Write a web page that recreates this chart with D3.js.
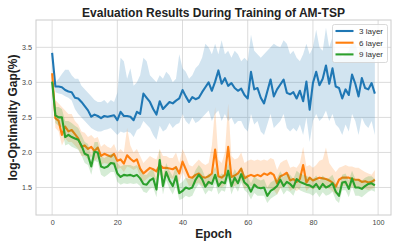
<!DOCTYPE html>
<html>
<head>
<meta charset="utf-8">
<script src="https://cdn.jsdelivr.net/npm/d3@7"></script>
<style>
  body { margin: 0; background: #fff; }
  svg { display: block; font-family: "Liberation Sans", Arial, sans-serif; }
  .tick text { fill: #444; font-size: 7.2px; }
</style>
</head>
<body>
<div id="chart"></div>
<script>
// epochs 0..99
var epochs = d3.range(0, 100);

var seriesNames = ["3 layer", "6 layer", "9 layer"];

var mean3 = [3.42,2.94,2.94,2.93,2.89,2.87,2.86,2.78,2.77,2.72,2.66,2.60,2.51,2.54,2.52,2.49,2.52,2.51,2.52,2.53,
  2.46,2.58,2.52,2.52,2.51,2.46,2.58,2.55,2.84,2.78,2.72,2.62,2.54,2.73,2.62,2.67,2.72,2.70,2.74,2.77,
  2.89,2.80,2.72,2.79,2.76,2.78,2.86,2.93,3.00,2.88,3.01,3.17,2.98,3.06,2.95,2.99,2.92,2.88,2.91,2.82,
  2.77,3.15,2.90,2.92,2.78,2.70,2.87,3.04,2.80,2.90,2.97,3.04,2.85,2.83,2.86,2.77,2.88,2.73,3.01,2.61,
  2.99,3.15,2.96,3.05,3.24,2.98,3.20,2.94,2.92,2.77,2.90,2.82,3.11,2.98,2.80,3.06,2.92,2.90,2.99,2.84];
var upper3 = [3.45,3.00,3.05,3.12,3.18,3.18,3.10,3.05,3.05,2.95,2.90,2.85,2.80,2.75,2.72,2.72,2.75,2.70,2.75,2.72,
  2.85,3.35,3.30,3.05,3.20,2.95,3.00,3.10,3.35,3.30,3.10,3.05,3.00,3.10,3.05,3.15,3.10,3.00,3.05,3.40,
  3.20,3.15,3.05,3.10,3.20,3.25,3.35,3.55,3.50,3.40,3.55,3.40,3.60,3.40,3.45,3.35,3.45,3.40,3.30,3.35,
  3.30,3.68,3.45,3.40,3.35,3.40,3.45,3.50,3.55,3.52,3.50,3.60,3.55,3.40,3.45,3.35,3.30,3.40,3.55,3.40,
  3.50,3.75,3.50,3.45,3.78,3.50,3.65,3.40,3.45,3.35,3.40,3.45,3.60,3.55,3.40,3.65,3.50,3.40,3.55,3.35];
var lower3 = [3.40,2.86,2.84,2.83,2.80,2.78,2.74,2.62,2.55,2.50,2.45,2.40,2.35,2.32,2.30,2.30,2.32,2.33,2.35,2.30,
  2.25,2.30,2.28,2.30,2.28,2.22,2.32,2.35,2.45,2.40,2.35,2.25,2.18,2.38,2.30,2.33,2.42,2.35,2.40,2.42,
  2.55,2.45,2.40,2.50,2.42,2.45,2.50,2.55,2.60,2.45,2.55,2.60,2.45,2.55,2.45,2.50,2.40,2.45,2.45,2.35,
  2.30,2.55,2.40,2.45,2.30,2.25,2.40,2.55,2.35,2.40,2.45,2.55,2.35,2.30,2.35,2.30,2.40,2.25,2.50,2.15,
  2.45,2.55,2.45,2.50,2.60,2.45,2.55,2.40,2.35,2.25,2.40,2.30,2.55,2.45,2.25,2.50,2.40,2.35,2.45,2.25];

var mean6 = [3.13,2.49,2.45,2.25,2.37,2.30,2.32,2.26,2.20,2.08,2.10,2.05,2.08,2.02,2.07,1.95,1.98,1.96,1.94,1.98,
  1.88,1.90,1.84,1.96,1.91,1.87,1.90,1.77,1.70,1.74,1.78,1.76,1.73,1.82,1.78,1.78,1.77,1.76,1.79,1.70,
  1.87,1.76,1.65,1.64,1.68,1.70,1.65,1.64,1.66,1.70,2.04,1.66,1.64,1.68,2.08,1.65,1.67,1.70,1.77,1.63,
  1.66,1.68,1.66,1.68,1.66,1.70,1.68,1.71,1.68,1.56,1.66,1.68,1.71,1.60,1.62,1.58,1.62,1.82,1.57,1.64,
  1.60,1.62,1.64,1.63,1.62,1.60,1.57,1.51,1.61,1.64,1.64,1.64,1.62,1.61,1.61,1.58,1.59,1.57,1.58,1.61];
var upper6 = [3.15,2.75,2.70,2.65,2.60,2.55,2.55,2.45,2.40,2.30,2.28,2.22,2.25,2.20,2.22,2.08,2.12,2.08,2.06,2.12,
  2.00,2.05,2.00,2.35,2.10,2.00,2.05,1.95,1.85,1.90,1.95,1.92,1.90,2.05,1.95,1.95,1.92,1.92,2.00,1.85,
  2.05,1.95,1.82,1.80,1.85,1.90,1.85,1.82,1.85,2.10,2.65,1.90,1.85,2.00,2.70,1.95,1.90,1.92,2.00,1.85,
  1.88,1.90,1.88,1.90,1.88,1.90,1.88,1.92,1.90,1.75,1.85,1.88,1.90,1.78,1.80,1.78,1.85,2.08,1.80,1.82,
  1.78,1.82,1.88,1.90,2.07,1.85,1.78,1.72,1.78,1.80,1.82,1.80,1.80,1.78,1.78,1.75,1.72,1.70,1.68,1.75];
var lower6 = [3.10,2.35,2.30,2.10,2.20,2.15,2.15,2.10,2.05,1.95,1.95,1.90,1.95,1.88,1.92,1.82,1.85,1.84,1.82,1.85,
  1.76,1.78,1.72,1.80,1.78,1.75,1.78,1.65,1.58,1.62,1.66,1.64,1.60,1.68,1.65,1.65,1.64,1.62,1.65,1.57,
  1.72,1.62,1.52,1.52,1.55,1.57,1.52,1.50,1.53,1.56,1.75,1.52,1.50,1.54,1.78,1.50,1.52,1.55,1.60,1.48,
  1.50,1.52,1.50,1.52,1.48,1.52,1.48,1.48,1.46,1.40,1.48,1.52,1.55,1.45,1.48,1.45,1.48,1.60,1.45,1.50,
  1.47,1.50,1.50,1.50,1.50,1.48,1.45,1.40,1.48,1.52,1.52,1.52,1.50,1.50,1.50,1.48,1.48,1.46,1.48,1.50];

var mean9 = [3.01,2.53,2.50,2.50,2.22,2.25,2.22,2.20,2.18,2.10,1.98,1.96,1.80,2.01,2.00,1.80,1.78,1.80,1.85,1.84,
  1.70,1.65,1.68,1.67,1.68,1.66,1.68,1.63,1.55,1.54,1.60,1.63,1.47,1.89,1.52,1.72,1.60,1.52,1.66,1.42,
  1.45,1.50,1.48,1.50,1.61,1.68,1.62,1.51,1.58,1.55,1.68,1.52,1.58,1.56,1.74,1.52,1.64,1.56,1.69,1.57,
  1.53,1.44,1.54,1.50,1.49,1.50,1.38,1.45,1.48,1.52,1.61,1.52,1.58,1.55,1.50,1.62,1.58,1.56,1.54,1.53,
  1.50,1.55,1.48,1.55,1.50,1.52,1.56,1.44,1.38,1.57,1.58,1.48,1.63,1.50,1.50,1.48,1.52,1.55,1.56,1.53];
var upper9 = [3.03,2.65,2.65,2.62,2.45,2.45,2.42,2.38,2.35,2.25,2.15,2.12,1.95,2.15,2.15,1.95,1.92,1.95,1.98,1.98,
  1.85,1.80,1.82,1.82,1.82,1.80,1.82,1.76,1.68,1.68,1.74,1.76,1.60,2.05,1.65,1.85,1.74,1.66,1.82,1.55,
  1.58,1.64,1.62,1.64,1.75,1.82,1.76,1.64,1.70,1.68,1.80,1.65,1.70,1.68,1.86,1.65,1.76,1.68,1.80,1.69,
  1.65,1.56,1.66,1.62,1.60,1.62,1.50,1.57,1.60,1.64,1.73,1.65,1.70,1.68,1.62,1.74,1.70,1.68,1.66,1.65,
  1.62,1.67,1.60,1.67,1.62,1.64,1.68,1.56,1.50,1.68,1.70,1.60,1.74,1.62,1.62,1.60,1.64,1.66,1.66,1.62];
var lower9 = [2.99,2.42,2.38,2.36,2.10,2.12,2.08,2.06,2.04,1.96,1.85,1.82,1.68,1.88,1.86,1.68,1.65,1.68,1.72,1.72,
  1.58,1.54,1.56,1.55,1.56,1.55,1.56,1.52,1.44,1.42,1.48,1.50,1.36,1.72,1.40,1.60,1.48,1.40,1.52,1.32,
  1.34,1.38,1.36,1.38,1.48,1.55,1.50,1.40,1.46,1.44,1.56,1.40,1.46,1.44,1.62,1.40,1.52,1.44,1.57,1.46,
  1.42,1.33,1.42,1.38,1.38,1.38,1.28,1.34,1.37,1.40,1.50,1.40,1.46,1.43,1.38,1.50,1.46,1.44,1.42,1.41,
  1.38,1.43,1.36,1.43,1.38,1.40,1.44,1.32,1.28,1.46,1.46,1.36,1.52,1.38,1.38,1.36,1.40,1.44,1.46,1.44];

var xTicks = [0, 20, 40, 60, 80, 100];
var yTicks = [1.5, 2.0, 2.5, 3.0, 3.5];
var colors = ["#1f77b4", "#ff7f0e", "#2ca02c"];

var means = [mean3, mean6, mean9],
    uppers = [upper3, upper6, upper9],
    lowers = [lower3, lower6, lower9];

var W = 399, H = 249,
    margin = { top: 20, right: 8, bottom: 34, left: 36 },
    width = W - margin.left - margin.right,
    height = H - margin.top - margin.bottom;

var svg = d3.select('#chart').append('svg')
  .attr('width', W)
  .attr('height', H);

var g = svg.append('g')
  .attr('transform', 'translate(' + margin.left + ',' + margin.top + ')');

var xScale = d3.scaleLinear()
  .domain([-4.95, 103.95])
  .range([0, width]);

var yScale = d3.scaleLinear()
  .domain([1.107, 3.89])
  .range([height, 0]);

// grid
g.append('g').selectAll('line').data(xTicks)
  .enter().append('line')
    .attr('x1', function(d) { return xScale(d); })
    .attr('x2', function(d) { return xScale(d); })
    .attr('y1', 0).attr('y2', height)
    .attr('stroke', '#dcdcdc').attr('stroke-width', 1);

g.append('g').selectAll('line').data(yTicks)
  .enter().append('line')
    .attr('y1', function(d) { return yScale(d); })
    .attr('y2', function(d) { return yScale(d); })
    .attr('x1', 0).attr('x2', width)
    .attr('stroke', '#dcdcdc').attr('stroke-width', 1);

// bands and lines
var area = d3.area()
  .x(function(d) { return xScale(d.e); })
  .y0(function(d) { return yScale(d.lo); })
  .y1(function(d) { return yScale(d.hi); });

var line = d3.line()
  .x(function(d) { return xScale(d.e); })
  .y(function(d) { return yScale(d.m); });

means.forEach(function(m, s) {
  var rows = epochs.map(function(e, i) {
    return { e: e, m: m[i], lo: lowers[s][i], hi: uppers[s][i] };
  });
  g.append('path')
    .datum(rows)
    .attr('d', area)
    .attr('fill', colors[s])
    .attr('fill-opacity', 0.2);
  g.append('path')
    .datum(rows)
    .attr('d', line)
    .attr('fill', 'none')
    .attr('stroke', colors[s])
    .attr('stroke-width', 2.1)
    .attr('stroke-linejoin', 'round');
});

// frame
g.append('rect')
  .attr('x', 0).attr('y', 0)
  .attr('width', width).attr('height', height)
  .attr('fill', 'none')
  .attr('stroke', '#cccccc')
  .attr('stroke-width', 1);

// axes
var xAxis = g.append('g')
  .attr('transform', 'translate(0,' + height + ')')
  .call(d3.axisBottom(xScale).tickValues(xTicks).tickSize(0).tickPadding(5).tickFormat(d3.format('d')));
xAxis.select('.domain').remove();

var yAxis = g.append('g')
  .call(d3.axisLeft(yScale).tickValues(yTicks).tickSize(0).tickPadding(4).tickFormat(d3.format('.1f')));
yAxis.select('.domain').remove();

svg.selectAll('.tick text').attr('font-family', '"Liberation Sans", Arial, sans-serif');

// titles
svg.append('text')
  .attr('x', margin.left + width / 2)
  .attr('y', 16.5)
  .attr('text-anchor', 'middle')
  .attr('font-size', 12)
  .attr('font-weight', 'bold')
  .attr('fill', '#222')
  .text('Evaluation Results During Training of AM-TSP');

svg.append('text')
  .attr('x', margin.left + width / 2)
  .attr('y', 237.5)
  .attr('text-anchor', 'middle')
  .attr('font-size', 12)
  .attr('font-weight', 'bold')
  .attr('fill', '#222')
  .text('Epoch');

svg.append('text')
  .attr('transform', 'translate(17,' + (margin.top + height / 2) + ') rotate(-90)')
  .attr('text-anchor', 'middle')
  .attr('font-size', 12)
  .attr('font-weight', 'bold')
  .attr('fill', '#222')
  .text('log-Optimality Gap(%)');

// legend
var legend = svg.append('g')
  .attr('transform', 'translate(332.5,24.5)');

legend.append('rect')
  .attr('width', 55).attr('height', 38)
  .attr('rx', 2)
  .attr('fill', '#fff').attr('fill-opacity', 0.8)
  .attr('stroke', '#d0d0d0').attr('stroke-width', 0.8);

var items = legend.selectAll('.item').data(seriesNames)
  .enter().append('g')
    .attr('transform', function(d, i) { return 'translate(0,' + (6.5 + i * 11.7) + ')'; });

items.append('line')
  .attr('x1', 3).attr('x2', 21)
  .attr('stroke', function(d, i) { return colors[i]; })
  .attr('stroke-width', 2.1);

items.append('text')
  .attr('x', 26.5).attr('y', 2.8)
  .attr('font-size', 8)
  .attr('fill', '#333')
  .text(function(d) { return d; });
</script>
</body>
</html>
